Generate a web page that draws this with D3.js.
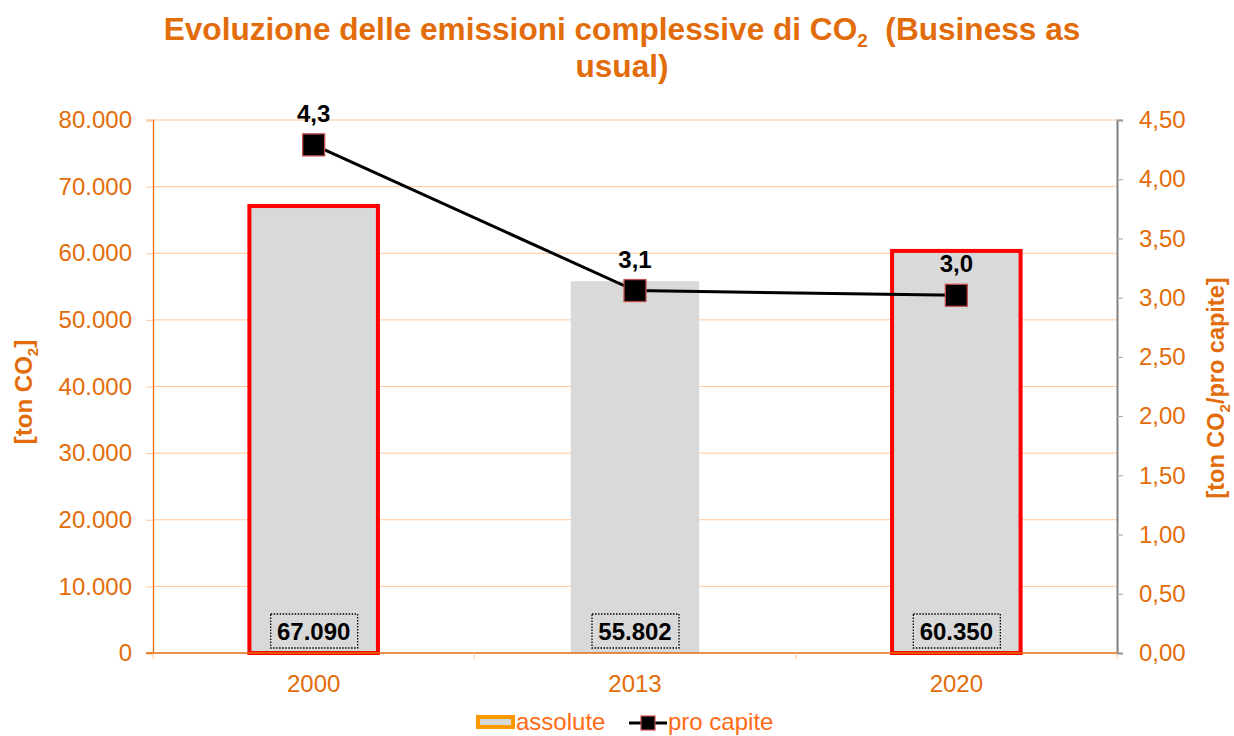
<!DOCTYPE html>
<html>
<head>
<meta charset="utf-8">
<script src="https://cdn.jsdelivr.net/npm/d3@7"></script>
<style>
  body { margin: 0; background: #fff; }
  svg { display: block; font-family: Arial, "Liberation Sans", sans-serif; }
</style>
</head>
<body>
<script>
// data
var years = ["2000", "2013", "2020"];
var assolute = [67090, 55802, 60350];
var proCapite = [4.29, 3.06, 3.02];
var highlighted = [true, false, true];
var leftTicks = [0, 10000, 20000, 30000, 40000, 50000, 60000, 70000, 80000];
var rightTicks = [0, 0.5, 1, 1.5, 2, 2.5, 3, 3.5, 4, 4.5];

var W = 1234, H = 736;
var margin = { left: 153, right: 117, top: 120, bottom: 83 };
var orange = "#E36C0A";
var legendOrange = "#FF6A13";

var it = d3.formatLocale({ decimal: ",", thousands: ".", grouping: [3], currency: ["€", ""] });
var fmtThousands = it.format(",.0f");
var fmt2 = it.format(".2f");
var fmt1 = it.format(".1f");

var svg = d3.select("body").append("svg")
    .attr("width", W)
    .attr("height", H);

var x = d3.scaleBand()
    .domain(years)
    .range([margin.left, W - margin.right])
    .paddingInner(0.6)
    .paddingOuter(0.3);

var yL = d3.scaleLinear().domain([0, 80000]).range([H - margin.bottom, margin.top]);
var yR = d3.scaleLinear().domain([0, 4.5]).range([H - margin.bottom, margin.top]);

// gridlines
svg.append("g")
    .selectAll("line")
    .data(leftTicks.slice(1))
    .enter().append("line")
    .attr("x1", margin.left)
    .attr("x2", W - margin.right)
    .attr("y1", d => yL(d))
    .attr("y2", d => yL(d))
    .attr("stroke", "#FFC79A")
    .attr("stroke-width", 1);

// left axis
var leftAxis = svg.append("g")
    .attr("transform", "translate(" + margin.left + ",0)")
    .call(d3.axisLeft(yL).tickValues(leftTicks).tickFormat(fmtThousands).tickSize(7).tickPadding(14));
leftAxis.select(".domain").attr("stroke", orange).attr("stroke-width", 1.3);
leftAxis.selectAll(".tick line").attr("stroke", "#FFC79A");
leftAxis.selectAll("text").attr("fill", orange).attr("font-size", 24);

// right axis
var rightAxis = svg.append("g")
    .attr("transform", "translate(" + (W - margin.right) + ",0)")
    .call(d3.axisRight(yR).tickValues(rightTicks).tickFormat(fmt2).tickSize(6).tickPadding(16));
rightAxis.select(".domain").attr("stroke", "#808080").attr("stroke-width", 2);
rightAxis.selectAll(".tick line").attr("stroke", "#A0A0A0");
rightAxis.selectAll("text").attr("fill", orange).attr("font-size", 24);

// bars
svg.append("g")
    .selectAll("rect")
    .data(years)
    .enter().append("rect")
    .attr("x", d => x(d))
    .attr("y", (d, i) => yL(assolute[i]))
    .attr("width", x.bandwidth())
    .attr("height", (d, i) => yL(0) - yL(assolute[i]))
    .attr("fill", "#D9D9D9")
    .attr("stroke", (d, i) => highlighted[i] ? "#FF0000" : "none")
    .attr("stroke-width", 4);

// bottom axis
var bottom = svg.append("g")
    .attr("transform", "translate(0," + (H - margin.bottom) + ")");
bottom.append("line")
    .attr("x1", margin.left - 7).attr("x2", W - margin.right)
    .attr("stroke", orange).attr("stroke-width", 1.3);
bottom.selectAll(".cat-tick")
    .data(d3.range(years.length + 1))
    .enter().append("line")
    .attr("x1", i => margin.left + (W - margin.left - margin.right) * i / years.length)
    .attr("x2", i => margin.left + (W - margin.left - margin.right) * i / years.length)
    .attr("y1", 0).attr("y2", 6)
    .attr("stroke", "#FFC79A");
bottom.selectAll("text")
    .data(years)
    .enter().append("text")
    .attr("x", d => x(d) + x.bandwidth() / 2)
    .attr("y", 39)
    .attr("text-anchor", "middle")
    .attr("fill", orange)
    .attr("font-size", 24)
    .text(d => d);

// bar value labels with dotted box
var vl = svg.append("g").selectAll("g")
    .data(years)
    .enter().append("g")
    .attr("transform", d => "translate(" + (x(d) + x.bandwidth() / 2) + "," + (H - margin.bottom - 22) + ")");
vl.append("rect")
    .attr("x", -43).attr("y", -17)
    .attr("width", 87).attr("height", 34)
    .attr("fill", "none")
    .attr("stroke", "#000")
    .attr("stroke-width", 1.3)
    .attr("stroke-dasharray", "1.5,1.5");
vl.append("text")
    .attr("text-anchor", "middle")
    .attr("y", 9)
    .attr("font-size", 24)
    .attr("font-weight", "bold")
    .attr("fill", "#000")
    .text((d, i) => fmtThousands(assolute[i]));

// pro capite line
var line = d3.line()
    .x((d, i) => x(years[i]) + x.bandwidth() / 2)
    .y(d => yR(d));
svg.append("path")
    .datum(proCapite)
    .attr("d", line)
    .attr("fill", "none")
    .attr("stroke", "#000")
    .attr("stroke-width", 3);

svg.append("g")
    .selectAll("rect")
    .data(proCapite)
    .enter().append("rect")
    .attr("x", (d, i) => x(years[i]) + x.bandwidth() / 2 - 11)
    .attr("y", d => yR(d) - 11)
    .attr("width", 22)
    .attr("height", 22)
    .attr("fill", "#000")
    .attr("stroke", "#C0504D")
    .attr("stroke-width", 1.3);

svg.append("g")
    .selectAll("text")
    .data(proCapite)
    .enter().append("text")
    .attr("x", (d, i) => x(years[i]) + x.bandwidth() / 2)
    .attr("y", d => yR(d) - 23)
    .attr("text-anchor", "middle")
    .attr("font-size", 24)
    .attr("font-weight", "bold")
    .attr("fill", "#000")
    .text(d => fmt1(d));

// title
var title = svg.append("text")
    .attr("text-anchor", "middle")
    .attr("fill", orange)
    .attr("font-size", 31.6)
    .attr("font-weight", "bold");
var t1 = title.append("tspan").attr("x", 622).attr("y", 40);
t1.append("tspan").text("Evoluzione delle emissioni complessive di CO");
t1.append("tspan").attr("font-size", 19).attr("dy", 7).text("2");
t1.append("tspan").attr("dy", -7).text("\u00a0 (Business as");
title.append("tspan").attr("x", 622).attr("y", 77).text("usual)");

// axis titles
var lt = svg.append("text")
    .attr("transform", "translate(32,392) rotate(-90)")
    .attr("text-anchor", "middle")
    .attr("fill", orange)
    .attr("font-size", 24)
    .attr("font-weight", "bold");
lt.append("tspan").text("[ton CO");
lt.append("tspan").attr("font-size", 15).attr("dy", 6).text("2");
lt.append("tspan").attr("dy", -6).text("]");

var rt = svg.append("text")
    .attr("transform", "translate(1224,388) rotate(-90)")
    .attr("text-anchor", "middle")
    .attr("fill", orange)
    .attr("font-size", 23.5)
    .attr("font-weight", "bold");
rt.append("tspan").text("[ton CO");
rt.append("tspan").attr("font-size", 15).attr("dy", 6).text("2");
rt.append("tspan").attr("dy", -6).text("/pro capite]");

// legend
var legend = svg.append("g").attr("transform", "translate(0,722)");
legend.append("rect")
    .attr("x", 478).attr("y", -5)
    .attr("width", 35).attr("height", 10)
    .attr("fill", "#D9D9D9")
    .attr("stroke", "#FF9900")
    .attr("stroke-width", 4);
legend.append("text")
    .attr("x", 516).attr("y", 8)
    .attr("fill", legendOrange)
    .attr("font-size", 24)
    .text("assolute");
legend.append("line")
    .attr("x1", 629).attr("x2", 667)
    .attr("y1", 1).attr("y2", 1)
    .attr("stroke", "#000").attr("stroke-width", 3);
legend.append("rect")
    .attr("x", 641).attr("y", -6)
    .attr("width", 14).attr("height", 14)
    .attr("fill", "#000")
    .attr("stroke", "#C0504D")
    .attr("stroke-width", 1.2);
legend.append("text")
    .attr("x", 668).attr("y", 8)
    .attr("fill", legendOrange)
    .attr("font-size", 24)
    .text("pro capite");
</script>
</body>
</html>
